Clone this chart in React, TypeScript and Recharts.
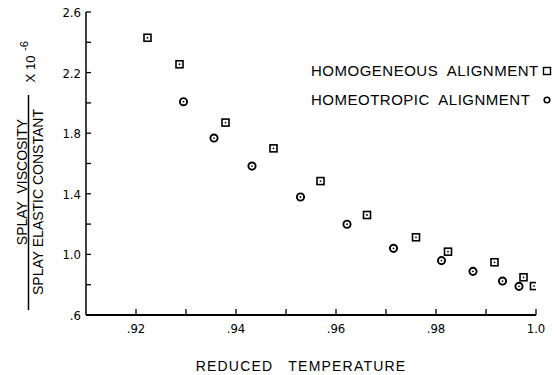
import { ScatterChart, Scatter, XAxis, YAxis } from "recharts"

// reduced temperature / (viscosity / elastic constant) x 1e-6
const seriesNames = ["HOMOGENEOUS  ALIGNMENT", "HOMEOTROPIC  ALIGNMENT"]
const homogeneousTemp = [0.9223, 0.9287, 0.9379, 0.9475, 0.9569, 0.9662, 0.976, 0.9824, 0.9917, 0.9975, 0.9996]
const homogeneousRatio = [2.43, 2.255, 1.87, 1.7, 1.484, 1.26, 1.113, 1.018, 0.948, 0.849, 0.791]
const homeotropicTemp = [0.9295, 0.9356, 0.9432, 0.9529, 0.9622, 0.9715, 0.9811, 0.9874, 0.9933, 0.9966]
const homeotropicRatio = [2.008, 1.768, 1.583, 1.379, 1.199, 1.04, 0.959, 0.888, 0.824, 0.789]

const xTicks = [0.92, 0.93, 0.94, 0.95, 0.96, 0.97, 0.98, 0.99, 1.0]
const yTicks = [0.6, 0.8, 1.0, 1.2, 1.4, 1.6, 1.8, 2.0, 2.2, 2.4, 2.6]

const homogeneous = homogeneousTemp.map((t, i) => ({ t, r: homogeneousRatio[i] }))
const homeotropic = homeotropicTemp.map((t, i) => ({ t, r: homeotropicRatio[i] }))

const tickFont = "'DejaVu Sans Condensed', 'Liberation Sans Narrow', 'DejaVu Sans Mono', monospace"
const labelFont = "'Liberation Sans', Arial, sans-serif"

const SquareDot = (props: any) => {
  const { cx, cy } = props
  if (cx == null || cy == null) return null
  return (
    <g>
      <rect x={cx - 3.5} y={cy - 3.5} width={7} height={7} fill="#fff" stroke="#000" strokeWidth={1.6} />
      <circle cx={cx} cy={cy} r={0.9} fill="#000" />
    </g>
  )
}

const CircleDot = (props: any) => {
  const { cx, cy } = props
  if (cx == null || cy == null) return null
  return (
    <g>
      <circle cx={cx} cy={cy} r={3.6} fill="#fff" stroke="#000" strokeWidth={1.9} />
      <circle cx={cx} cy={cy} r={0.9} fill="#000" />
    </g>
  )
}

const XTick = (props: any) => {
  const { x, y, payload } = props
  const v = payload.value
  const n = Math.round(v * 100)
  const show = n % 2 === 0
  const text = v >= 1 ? "1.0" : "." + n
  return (
    <g>
      <line x1={x} x2={x} y1={y} y2={y - 6} stroke="#000" strokeWidth={1.3} />
      {show && (
        <text x={x} y={y + 18} textAnchor="middle" fontSize={13} fontFamily={tickFont} fill="#000">
          {text}
        </text>
      )}
    </g>
  )
}

const YTick = (props: any) => {
  const { x, y, payload } = props
  const v = payload.value
  const show = Math.round((v - 0.6) / 0.2) % 2 === 0
  const text = v < 1 ? "." + Math.round(v * 10) : v.toFixed(1)
  return (
    <g>
      <line x1={x} x2={x + 5} y1={y} y2={y} stroke="#000" strokeWidth={1.3} />
      {show && (
        <text x={x - 5} y={y + 5} textAnchor="end" fontSize={13} fontFamily={tickFont} fill="#000">
          {text}
        </text>
      )}
    </g>
  )
}

const YTitle = () => (
  <g fill="#000" fontFamily={labelFont}>
    <text x={27} y={182} transform="rotate(-90 27 182)" textAnchor="middle" fontSize={14} style={{ whiteSpace: "pre" }}>
      {"SPLAY  VISCOSITY"}
    </text>
    <line x1={28.5} x2={28.5} y1={95} y2={310} stroke="#000" strokeWidth={1.5} />
    <text x={43} y={202} transform="rotate(-90 43 202)" textAnchor="middle" fontSize={14}>
      SPLAY ELASTIC CONSTANT
    </text>
    <text x={35} y={69} transform="rotate(-90 35 69)" textAnchor="middle" fontSize={13}>
      X 10
    </text>
    <text x={28} y={46} transform="rotate(-90 28 46)" textAnchor="middle" fontSize={11}>
      -6
    </text>
  </g>
)

const XTitle = (props: any) => {
  const { viewBox } = props
  const cx = viewBox.x + viewBox.width / 2 - 10
  return (
    <text x={cx} y={371} textAnchor="middle" fontSize={14} fontFamily={labelFont} letterSpacing={1.2} fill="#000" style={{ whiteSpace: "pre" }}>
      {"REDUCED   TEMPERATURE"}
    </text>
  )
}

const LegendBox = () => (
  <div style={{ position: "absolute", left: 311, top: 56, fontFamily: labelFont, fontSize: 15, letterSpacing: 0.5, color: "#000" }}>
    {seriesNames.map((name, i) => (
      <div key={name} style={{ display: "flex", alignItems: "center", height: 29 }}>
        <span style={{ width: 231, whiteSpace: "pre" }}>{name}</span>
        <svg width={10} height={10}>
          {i === 0 ? (
            <rect x={1.5} y={1.5} width={7} height={7} fill="#fff" stroke="#000" strokeWidth={1.4} />
          ) : (
            <circle cx={5} cy={5} r={2.8} fill="#fff" stroke="#000" strokeWidth={1.6} />
          )}
        </svg>
      </div>
    ))}
  </div>
)

export default function App() {
  return (
    <div style={{ position: "absolute", left: 0, top: 0, width: 556, height: 375, background: "#fff" }}>
      <ScatterChart width={556} height={375} margin={{ top: 12, right: 20, bottom: 0, left: 0 }}>
        <XAxis
          type="number"
          dataKey="t"
          domain={[0.91, 1.0]}
          ticks={xTicks}
          interval={0}
          height={60}
          tickSize={0}
          tickMargin={0}
          tick={<XTick />}
          stroke="#000"
          strokeWidth={1.8}
          allowDataOverflow
          label={{ content: <XTitle /> }}
        />
        <YAxis
          type="number"
          dataKey="r"
          domain={[0.6, 2.6]}
          ticks={yTicks}
          interval={0}
          width={86}
          tickSize={0}
          tickMargin={0}
          tick={<YTick />}
          stroke="#000"
          strokeWidth={1.5}
          allowDataOverflow
          label={{ content: <YTitle /> }}
        />
        <Scatter name={seriesNames[0]} data={homogeneous} shape={<SquareDot />} isAnimationActive={false} />
        <Scatter name={seriesNames[1]} data={homeotropic} shape={<CircleDot />} isAnimationActive={false} />
      </ScatterChart>
      <LegendBox />
    </div>
  )
}
